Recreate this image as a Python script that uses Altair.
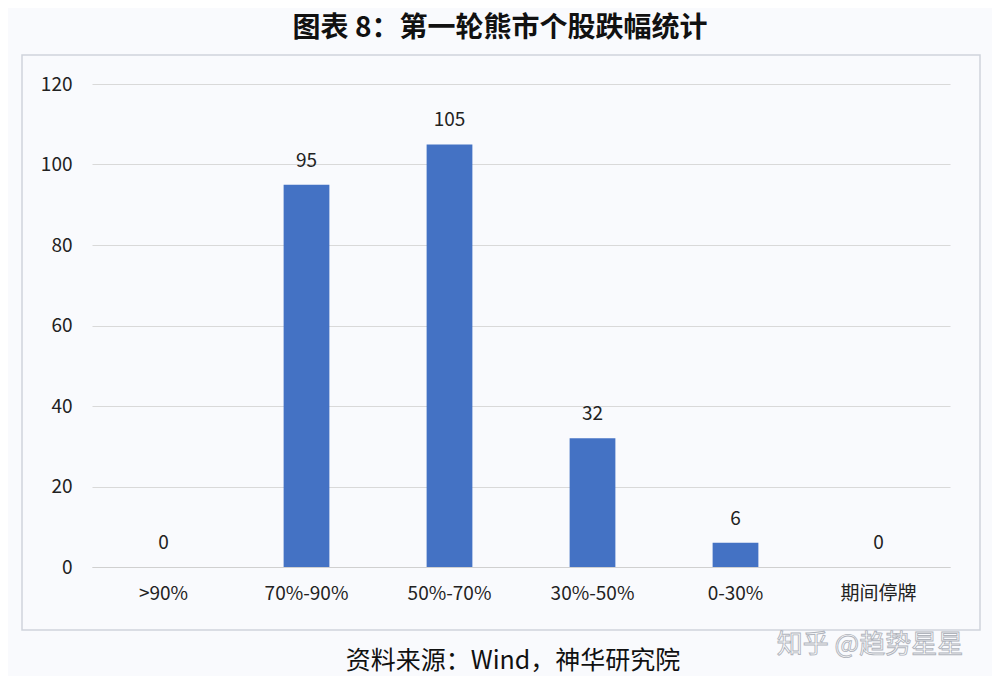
import altair as alt
import pandas as pd

categories = [">90%", "70%-90%", "50%-70%", "30%-50%", "0-30%", "期间停牌"]
values = [0, 95, 105, 32, 6, 0]
y_ticks = [0, 20, 40, 60, 80, 100, 120]
title_text = ["图表 8：第一轮熊市个股跌幅统计"]
source_text = ["资料来源：Wind，神华研究院"]
watermark_text = ["知乎 @趋势星星"]

df = pd.DataFrame({"cat": categories, "val": values})
FONT = "Noto Sans CJK SC"

x_enc = alt.X("cat:N", sort=categories,
              scale=alt.Scale(paddingInner=0.68, paddingOuter=0.34),
              axis=alt.Axis(title=None, labelAngle=0, labelFontSize=19, labelColor="#222222",
                            labelFont=FONT, labelPadding=17, ticks=False,
                            domainColor="#d0d0d0", domainWidth=1))
y_enc = alt.Y("val:Q", scale=alt.Scale(domain=[0, 120]),
              axis=alt.Axis(title=None, values=y_ticks, labelFontSize=19, labelColor="#222222",
                            labelFont=FONT, labelPadding=20, ticks=False, domain=False,
                            gridColor="#d9d9d9", gridWidth=1))

frame = alt.Chart(pd.DataFrame({"k": [1]})).mark_rect(
    fillOpacity=0, stroke="#cfd4dc", strokeWidth=1.5
).encode(x=alt.value(-70), x2=alt.value(888), y=alt.value(-29), y2=alt.value(546))

bars = alt.Chart(df).mark_bar(color="#4472C4").encode(x=x_enc, y=y_enc)

labels = alt.Chart(df).mark_text(
    baseline="bottom", dy=-14, fontSize=19, font=FONT, color="#222222"
).encode(x=alt.X("cat:N", sort=categories), y="val:Q", text="val:Q")

title = alt.Chart(pd.DataFrame({"t": title_text})).mark_text(
    fontSize=28, fontWeight="bold", font=FONT, color="#111111", baseline="alphabetic", align="center"
).encode(x=alt.value(408), y=alt.value(-47), text="t:N")

source = alt.Chart(pd.DataFrame({"t": source_text})).mark_text(
    fontSize=25, font=FONT, color="#111111", baseline="middle", align="center"
).encode(x=alt.value(421), y=alt.value(577), text="t:N")

watermark = alt.Chart(pd.DataFrame({"t": watermark_text})).mark_text(
    fontSize=26, font=FONT, color="#ffffff", stroke="#b0b4bc", strokeWidth=0.9,
    baseline="middle", align="center"
).encode(x=alt.value(778), y=alt.value(561), text="t:N")

chart = alt.layer(frame, bars, labels, title, source, watermark).properties(
    width=858, height=483,
    background="#f9fafd",
    autosize=alt.AutoSizeParams(type="none"),
    padding={"left": 84, "top": 76, "right": 42, "bottom": 109},
).configure_view(stroke=None)

chart.save("out.html", embed_options={"renderer": "svg", "actions": False})
